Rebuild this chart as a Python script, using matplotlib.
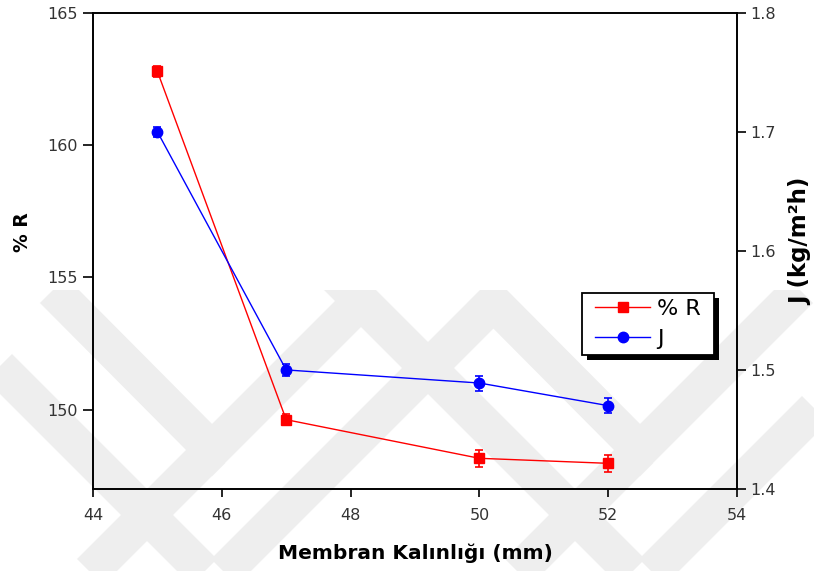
import matplotlib
matplotlib.use("Agg")
import matplotlib.pyplot as plt
from matplotlib.lines import Line2D
from matplotlib.patches import Rectangle

plt.rcParams['font.family'] = ['DejaVu Sans']

# data
thickness = [45, 47, 50, 52]
rejection = [162.78, 149.62, 148.16, 147.97]
rejection_err = [0.2, 0.2, 0.32, 0.33]
flux = [1.700, 1.500, 1.489, 1.470]
flux_err = [0.004, 0.005, 0.0063, 0.0063]

x_ticks = [44, 46, 48, 50, 52, 54]
r_ticks = [150, 155, 160, 165]
j_ticks = [1.4, 1.5, 1.6, 1.7, 1.8]

W, H = 814, 571
fig = plt.figure(figsize=(W / 100, H / 100), dpi=100)
fig.patch.set_facecolor('white')

# light grey watermark in the lower half (pixel coords, y down)
wm = fig.add_axes([0, 0, 1, (H - 290) / H])
wm.set_xlim(0, W)
wm.set_ylim(H, 290)
wm.axis('off')
wm.set_zorder(-1)
wm_color = '#eeeeee'
for dx in [0, 428]:
    wm.plot([53 + dx, 212 + dx, 372 + dx], [290, 450, 290], color=wm_color, lw=26.5,
            solid_joinstyle='miter', solid_capstyle='butt')
    wm.plot([212 + dx, 60 + dx], [450, 602], color=wm_color, lw=26.5, solid_capstyle='butt')
    wm.plot([-120 + dx, 214 + dx, 506 + dx], [248, 582, 290], color=wm_color, lw=26.5,
            solid_joinstyle='miter', solid_capstyle='butt')

ax = fig.add_axes([93 / W, 1 - 489 / H, (737 - 93) / W, (489 - 12.7) / H])
ax.set_zorder(1)
ax.patch.set_visible(False)
ax2 = ax.twinx()
ax2.set_zorder(2)
ax2.patch.set_visible(False)

ax.errorbar(thickness, rejection, yerr=rejection_err, fmt='-s', color='#ff0000',
            ms=7.5, lw=1, elinewidth=1.2, capsize=3, capthick=1.2)
ax2.errorbar(thickness, flux, yerr=flux_err, fmt='-o', color='#0000ff',
             ms=7.5, lw=1, elinewidth=1.2, capsize=3, capthick=1.2)

ax.set_xlim(44, 54)
ax.set_ylim(147, 165)
ax2.set_ylim(1.4, 1.8)
ax.set_xticks(x_ticks)
ax.set_yticks(r_ticks)
ax2.set_yticks(j_ticks)
ax2.set_yticklabels([f'{v:.1f}' for v in j_ticks])

for a in (ax, ax2):
    for s in a.spines.values():
        s.set_linewidth(1.2)
ax.tick_params(axis='y', direction='out', length=7, width=1.2, pad=4,
               labelsize=11.5, labelcolor='#333333')
ax.tick_params(axis='x', direction='out', length=6, width=1.2, pad=8,
               labelsize=11.5, labelcolor='#333333')
ax2.tick_params(axis='y', direction='out', length=6.5, width=1.2, pad=3,
                labelsize=11.5, labelcolor='#333333')

ax.set_xlabel('Membran Kalınlığı (mm)', fontsize=14.5, fontweight='bold', va='center')
ax.xaxis.set_label_coords(0.5, (489 - 553) / 476)
ax.set_ylabel('% R', fontsize=13.5, fontweight='bold', va='center')
ax.yaxis.set_label_coords((22 - 93) / 644, (489 - 232) / 476)
ax2.set_ylabel('J (kg/m²h)', fontsize=16.5, fontweight='bold', va='center', rotation=90)
ax2.yaxis.set_label_coords((801 - 93) / 644, (489 - 241) / 476)

# legend: Origin style box with a solid black drop shadow
box_x0, box_y0, box_x1, box_y1 = 582, 293, 714, 355
shadow = Rectangle(((box_x0 + 5) / W, 1 - (box_y1 + 5) / H), (box_x1 - box_x0) / W,
                   (box_y1 - box_y0) / H, transform=fig.transFigure, facecolor='black',
                   edgecolor='none', zorder=4.8, clip_on=False)
frame = Rectangle((box_x0 / W, 1 - box_y1 / H), (box_x1 - box_x0) / W,
                  (box_y1 - box_y0) / H, transform=fig.transFigure, facecolor='white',
                  edgecolor='black', lw=1.3, zorder=4.9, clip_on=False)
ax2.add_patch(shadow)
ax2.add_patch(frame)

handles = [Line2D([], [], color='#ff0000', marker='s', ms=7.5, lw=1),
           Line2D([], [], color='#0000ff', marker='o', ms=7.5, lw=1)]
leg = ax2.legend(handles, ['% R', 'J'], loc='center',
                 bbox_to_anchor=((box_x0 + box_x1) / 2 / W, 1 - (box_y0 + box_y1) / 2 / H),
                 bbox_transform=fig.transFigure, frameon=False, borderaxespad=0,
                 borderpad=0, fontsize=16, handlelength=2.48, handletextpad=0.32,
                 labelspacing=0.46)
leg.set_zorder(5)

fig.savefig('out.png', dpi=100, facecolor='white')
